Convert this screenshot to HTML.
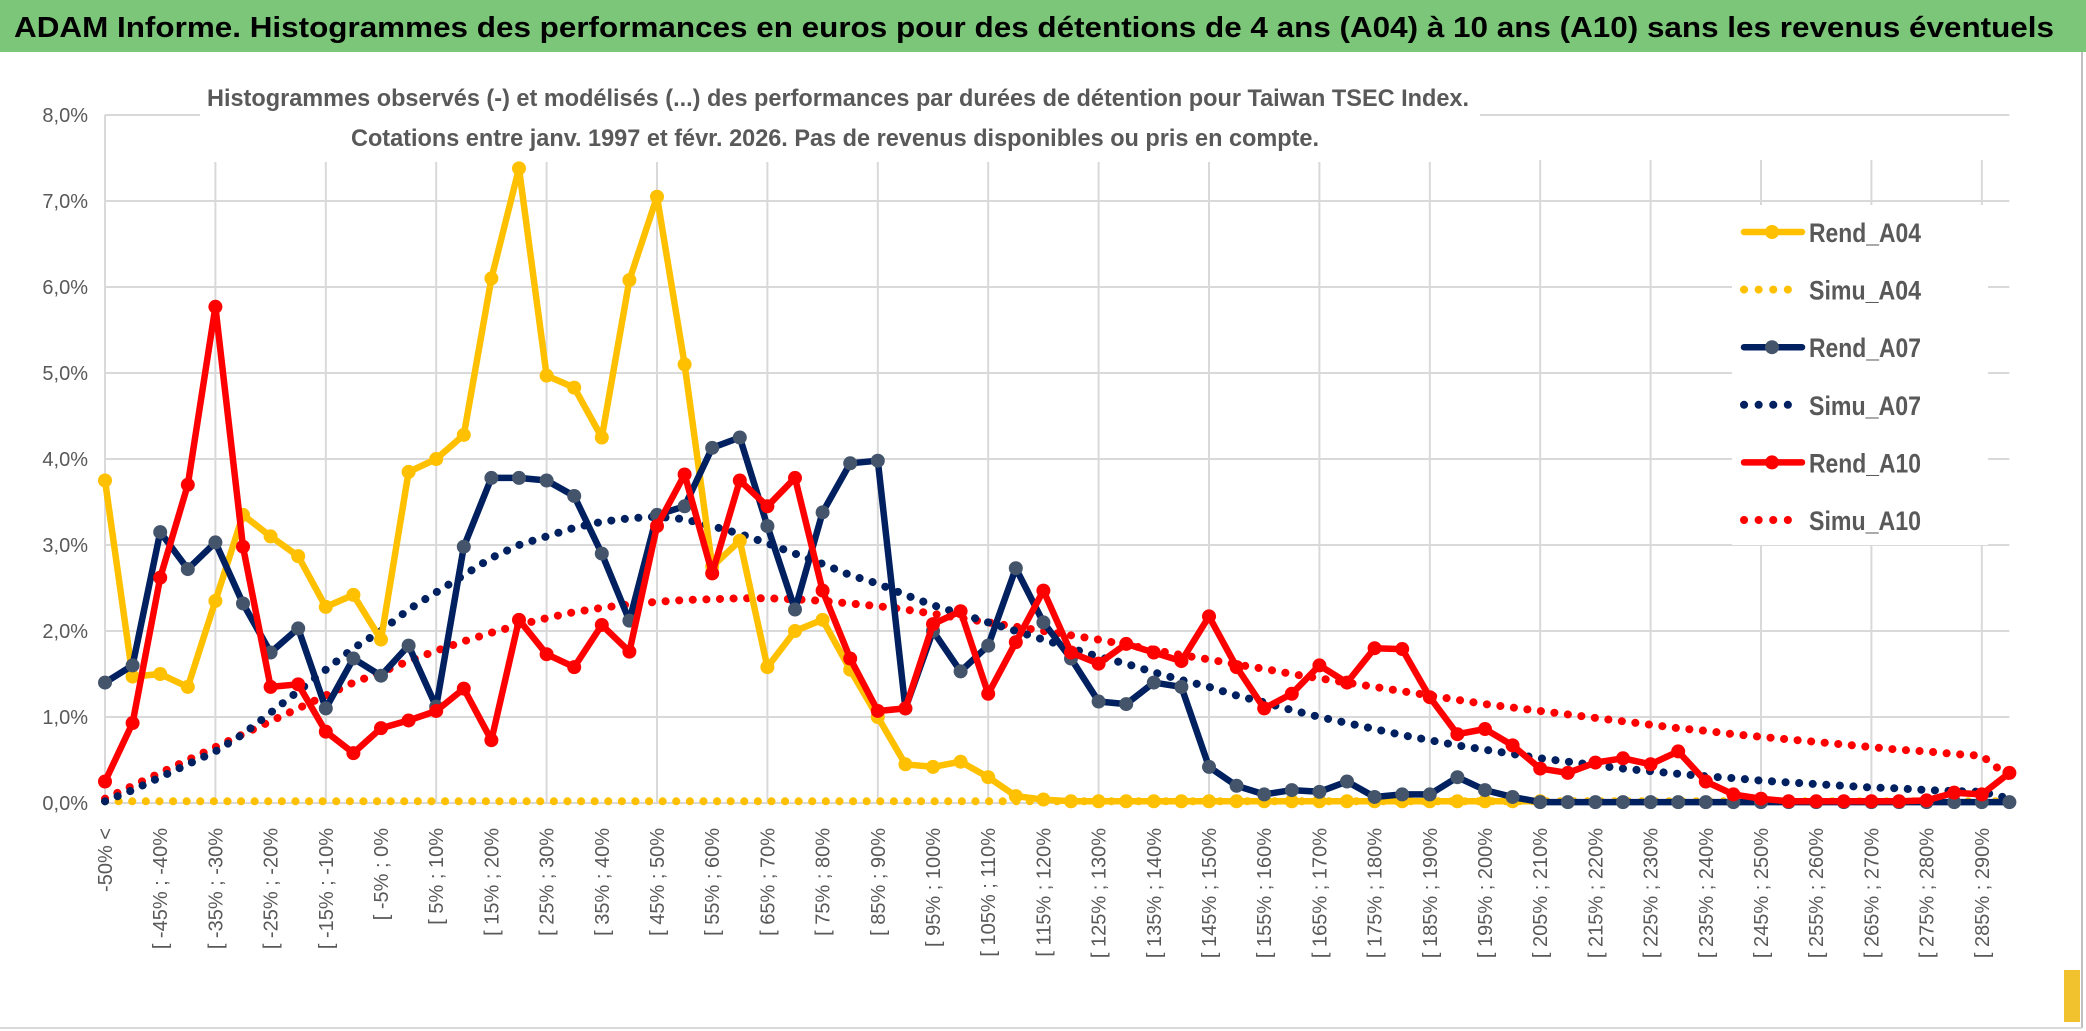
<!DOCTYPE html>
<html><head><meta charset="utf-8"><style>
html,body{margin:0;padding:0;background:#fff}
svg{display:block}
text{font-family:"Liberation Sans",sans-serif}
</style></head><body>
<svg id="chart" width="2086" height="1031" viewBox="0 0 2086 1031">
<rect x="0" y="0" width="2086" height="1031" fill="#fff"/>
<rect x="0" y="0" width="2086" height="52" fill="#7cc67a"/>
<text x="14" y="37" font-size="29" font-weight="bold" fill="#000" textLength="2040" lengthAdjust="spacingAndGlyphs">ADAM Informe. Histogrammes des performances en euros pour des détentions de 4 ans (A04) à 10 ans (A10) sans les revenus éventuels</text>
<line x1="2082" y1="52" x2="2082" y2="1028" stroke="#bfbfbf" stroke-width="2"/>
<line x1="0" y1="1028" x2="2082" y2="1028" stroke="#d9d9d9" stroke-width="2"/>
<rect x="2064" y="970" width="16" height="52" fill="#f2c12e"/>
<g id="grid"></g>
<g id="yaxis"></g>
<g id="xaxis"></g>
<rect x="200" y="70" width="1280" height="92" fill="#fff"/>
<text x="838" y="106" font-size="24" font-weight="bold" fill="#595959" text-anchor="middle" textLength="1262" lengthAdjust="spacingAndGlyphs">Histogrammes observés (-) et modélisés (...) des performances par durées de détention pour Taiwan TSEC Index.</text>
<text x="835" y="146" font-size="24" font-weight="bold" fill="#595959" text-anchor="middle" textLength="968" lengthAdjust="spacingAndGlyphs">Cotations entre janv. 1997 et févr. 2026. Pas de revenus disponibles ou pris en compte.</text>
<g id="series"></g>
<rect x="1732" y="205" width="256" height="340" fill="#fff"/>
<g id="legend"></g>
</svg>
<script>
const categories = (function(){const a=["-50% <"];for(let k=0;k<69;k++){const lo=-50+5*k;a.push("[ "+lo+"% ; "+(lo+5)+"%");}return a;})();
const yTicks = [0,1,2,3,4,5,6,7,8];
const yTickLabels = ["0,0%","1,0%","2,0%","3,0%","4,0%","5,0%","6,0%","7,0%","8,0%"];
const rendA04 = [3.75,1.47,1.5,1.35,2.35,3.35,3.1,2.87,2.28,2.42,1.9,3.85,4.0,4.28,6.1,7.38,4.97,4.83,4.25,6.08,7.05,5.1,2.75,3.05,1.58,2.0,2.13,1.55,1.0,0.45,0.42,0.48,0.3,0.08,0.04,0.02,0.02,0.02,0.02,0.02,0.02,0.02,0.02,0.02,0.02,0.02,0.02,0.02,0.02,0.02,0.02,0.02,0.02,null,null,null,null,null,null,null,null,null,null,null,null,null,null,null,null,null];
const simuA04 = new Array(70).fill(0.02);
const rendA07 = [1.4,1.6,3.15,2.72,3.03,2.32,1.75,2.03,1.1,1.68,1.48,1.83,1.12,2.98,3.78,3.78,3.75,3.57,2.9,2.12,3.35,3.45,4.13,4.25,3.22,2.25,3.38,3.95,3.98,1.1,2.0,1.53,1.83,2.73,2.1,1.68,1.18,1.15,1.4,1.35,0.42,0.2,0.1,0.15,0.13,0.25,0.07,0.1,0.1,0.3,0.15,0.07,0.01,0.01,0.01,0.01,0.01,0.01,0.01,0.01,0.01,0.01,0.01,0.01,0.01,0.01,0.01,0.01,0.01,0.01];
const simuA07 = [0.02,0.15,0.3,0.45,0.6,0.8,1.05,1.3,1.55,1.8,2.0,2.25,2.45,2.65,2.85,3.0,3.1,3.2,3.27,3.31,3.33,3.3,3.22,3.13,3.02,2.9,2.78,2.65,2.55,2.42,2.3,2.2,2.1,2.0,1.9,1.8,1.7,1.62,1.52,1.43,1.35,1.25,1.17,1.08,1.0,0.93,0.86,0.79,0.73,0.67,0.62,0.57,0.52,0.48,0.44,0.4,0.37,0.34,0.31,0.29,0.26,0.24,0.22,0.2,0.18,0.17,0.15,0.14,0.13,0.05];
const rendA10 = [0.25,0.93,2.62,3.7,5.77,2.98,1.35,1.38,0.83,0.58,0.87,0.96,1.07,1.33,0.73,2.13,1.73,1.58,2.07,1.76,3.22,3.82,2.67,3.75,3.45,3.78,2.47,1.68,1.07,1.1,2.08,2.23,1.27,1.87,2.47,1.75,1.62,1.85,1.75,1.65,2.17,1.58,1.1,1.27,1.6,1.4,1.8,1.79,1.23,0.8,0.86,0.67,0.4,0.35,0.47,0.52,0.45,0.6,0.25,0.1,0.05,0.02,0.02,0.02,0.02,0.02,0.03,0.12,0.1,0.35];
const simuA10 = [0.05,0.2,0.35,0.5,0.65,0.8,0.95,1.1,1.25,1.4,1.52,1.65,1.77,1.88,1.98,2.07,2.15,2.22,2.27,2.31,2.34,2.36,2.37,2.38,2.38,2.37,2.35,2.32,2.29,2.25,2.2,2.15,2.1,2.05,2.0,1.95,1.9,1.84,1.78,1.72,1.67,1.61,1.56,1.5,1.45,1.4,1.35,1.3,1.25,1.2,1.15,1.11,1.07,1.03,0.99,0.95,0.91,0.87,0.84,0.8,0.77,0.74,0.71,0.68,0.65,0.62,0.6,0.57,0.55,0.3];

const NS="http://www.w3.org/2000/svg";
const X0=105, DX=27.6, Y0=803, DY=86;
function xs(i){return X0+DX*i;}
function ys(v){return Y0-DY*v;}
function mk(tag,parent){const e=document.createElementNS(NS,tag);parent.appendChild(e);return e;}
const grid=document.getElementById('grid'),yaxis=document.getElementById('yaxis'),xaxis=document.getElementById('xaxis'),series=document.getElementById('series'),legend=document.getElementById('legend');
const xEnd=xs(categories.length-1);
yTicks.forEach((t,k)=>{
  const l=mk('line',grid);
  
  
  l.setAttribute('x1',X0);l.setAttribute('x2',xEnd);l.setAttribute('y1',ys(t));l.setAttribute('y2',ys(t));
  l.setAttribute('stroke','#d9d9d9');l.setAttribute('stroke-width','2');
  const tx=mk('text',yaxis);
  
  
  tx.setAttribute('x',88);tx.setAttribute('y',ys(t)+7);tx.setAttribute('text-anchor','end');
  tx.setAttribute('font-size','20');tx.setAttribute('fill','#595959');tx.textContent=yTickLabels[k];
});
for(let i=0;i<categories.length;i+=4){
  const l=mk('line',grid);
  
  
  l.setAttribute('x1',xs(i));l.setAttribute('x2',xs(i));l.setAttribute('y1',i===0?ys(8):160);l.setAttribute('y2',Y0);
  l.setAttribute('stroke','#d9d9d9');l.setAttribute('stroke-width','2');
}
for(let i=0;i<categories.length;i+=2){
  const t=mk('text',xaxis);
  
  
  const x=xs(i)+7,y=828;
  t.setAttribute('x',x);t.setAttribute('y',y);t.setAttribute('transform','rotate(-90 '+x+' '+y+')');
  t.setAttribute('text-anchor','end');t.setAttribute('font-size','20');t.setAttribute('fill','#595959');
  t.textContent=categories[i];
}
function drawSolid(vals,color,mcolor,name){
  const g=mk('g',series);
  
  
  let d='',pen=false;
  vals.forEach((v,i)=>{if(v===null){pen=false;return;}d+=(pen?'L':'M')+xs(i).toFixed(1)+' '+ys(v).toFixed(1)+' ';pen=true;});
  const p=mk('path',g);
  
  
  p.setAttribute('d',d);p.setAttribute('fill','none');p.setAttribute('stroke',color);p.setAttribute('stroke-width','6.5');p.setAttribute('stroke-linejoin','round');
  vals.forEach((v,i)=>{if(v===null)return;
    const c=mk('circle',g);
    
    
    c.setAttribute('cx',xs(i));c.setAttribute('cy',ys(v));c.setAttribute('r','7');c.setAttribute('fill',mcolor);});
}
function drawDotted(vals,color,name){
  let d='';
  vals.forEach((v,i)=>{d+=(i?'L':'M')+xs(i).toFixed(1)+' '+ys(v).toFixed(1)+' ';});
  const p=mk('path',series);
  
  
  p.setAttribute('d',d);p.setAttribute('fill','none');p.setAttribute('stroke',color);p.setAttribute('stroke-width','8');
  p.setAttribute('stroke-linecap','round');p.setAttribute('stroke-dasharray','0.1 13.5');
}
drawDotted(simuA04,'#ffc000','simu-a04-line');
drawDotted(simuA10,'#ff0000','simu-a10-line');
drawDotted(simuA07,'#002060','simu-a07-line');
drawSolid(rendA04,'#ffc000','#ffc000','rend-a04');
drawSolid(rendA07,'#002060','#44546a','rend-a07');
drawSolid(rendA10,'#ff0000','#ff0000','rend-a10');
const legNames=["Rend_A04","Simu_A04","Rend_A07","Simu_A07","Rend_A10","Simu_A10"];
const legColors=["#ffc000","#ffc000","#002060","#002060","#ff0000","#ff0000"];
const legMarker=["#ffc000",null,"#44546a",null,"#ff0000",null];
legNames.forEach((n,k)=>{
  const y=232+57.6*k;
  const g=mk('g',legend);
  
  
  const l=mk('line',g);
  l.setAttribute('x1',1744);l.setAttribute('x2',1802);l.setAttribute('y1',y);l.setAttribute('y2',y);l.setAttribute('stroke',legColors[k]);
  if(legMarker[k]){l.setAttribute('stroke-width','6.5');l.setAttribute('stroke-linecap','round');
    const c=mk('circle',g);c.setAttribute('cx',1772);c.setAttribute('cy',y);c.setAttribute('r','7');c.setAttribute('fill',legMarker[k]);}
  else{l.setAttribute('stroke-width','8');l.setAttribute('stroke-linecap','round');l.setAttribute('stroke-dasharray','0.1 14.5');}
  const t=mk('text',g);
  t.setAttribute('x',1809);t.setAttribute('y',y+10);t.setAttribute('font-size','27');t.setAttribute('font-weight','bold');t.setAttribute('fill','#595959');
  t.setAttribute('textLength','112');t.setAttribute('lengthAdjust','spacingAndGlyphs');
  t.textContent=n;
});
</script>
</body></html>
